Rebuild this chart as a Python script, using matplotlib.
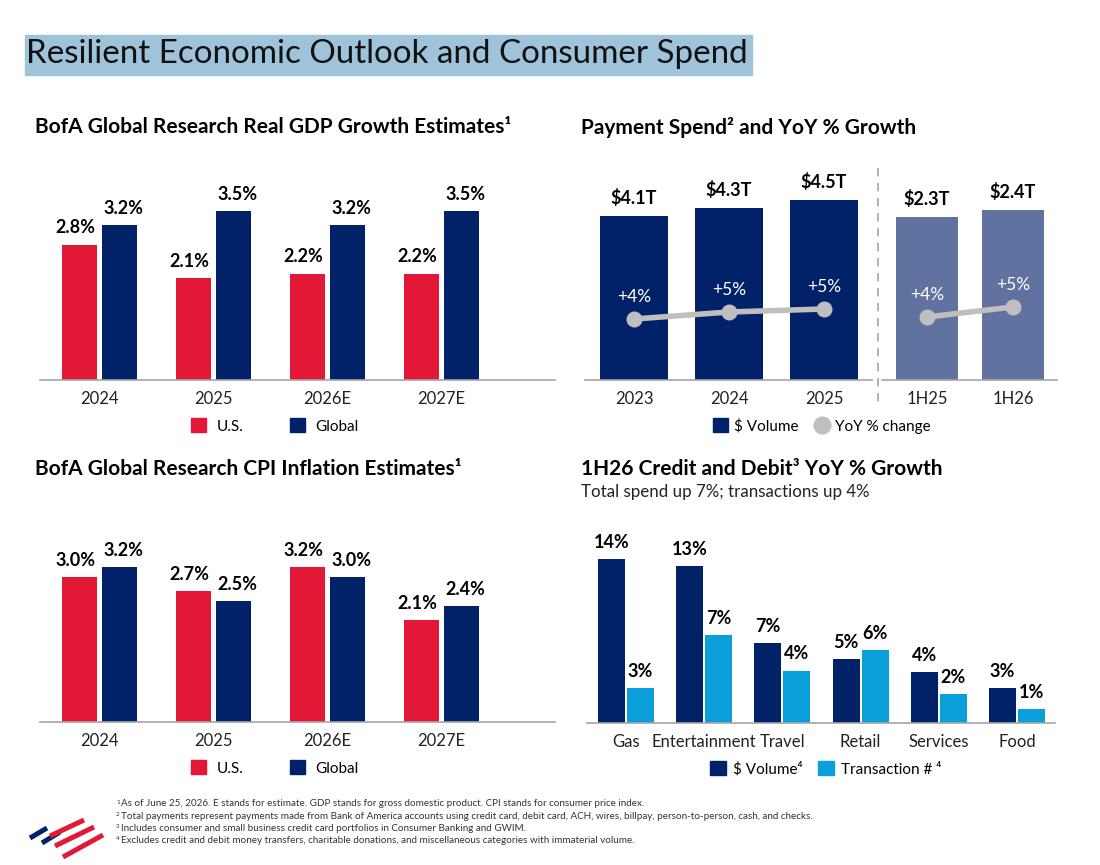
import numpy as np
import matplotlib
matplotlib.use('Agg')
import matplotlib.pyplot as plt
from matplotlib.patches import Rectangle
from matplotlib.lines import Line2D

# ═══ Data ═══
gdp_years = ['2024', '2025', '2026E', '2027E']
gdp_us = [2.8, 2.1, 2.2, 2.2]
gdp_global = [3.2, 3.5, 3.2, 3.5]

cpi_years = ['2024', '2025', '2026E', '2027E']
cpi_us = [3.0, 2.7, 3.2, 2.1]
cpi_global = [3.2, 2.5, 3.0, 2.4]

pay_years = ['2023', '2024', '2025']
pay_vol = [4.1, 4.3, 4.5]
pay_yoy = [3.9, 4.6, 4.9]
pay_yoy_lbl = ['+4%', '+5%', '+5%']
half_periods = ['1H25', '1H26']
half_vol = [2.3, 2.4]
half_yoy = [4.1, 5.1]
half_yoy_lbl = ['+4%', '+5%']

cats = ['Gas', 'Entertainment', 'Travel', 'Retail', 'Services', 'Food']
cat_dollar = [13.8, 13.2, 6.7, 5.4, 4.3, 2.9]
cat_txn = [2.9, 7.4, 4.4, 6.1, 2.4, 1.2]

footnotes = [
    ('1', 'As of June 25, 2026. E stands for estimate. GDP stands for gross domestic product. CPI stands for consumer price index.'),
    ('2', 'Total payments represent payments made from Bank of America accounts using credit card, debit card, ACH, wires, billpay, person-to-person, cash, and checks.'),
    ('3', 'Includes consumer and small business credit card portfolios in Consumer Banking and GWIM.'),
    ('4', 'Excludes credit and debit money transfers, charitable donations, and miscellaneous categories with immaterial volume.'),
]

# ═══ Style ═══
NAVY = '#012169'
RED = '#E31837'
LIGHT = '#0A9FDB'
MUTED = '#5F72A0'
GRAY = '#BFBFBF'
AXIS = '#A6A6A6'
FONT = ['Lato', 'DejaVu Sans']
plt.rcParams['font.family'] = FONT

W, H = 1100, 865
fig = plt.figure(figsize=(W / 100, H / 100), dpi=100)


def px_axes(x0, y0, x1, y1):
    """Axes from pixel box (top-left origin)."""
    return fig.add_axes([x0 / W, 1 - y1 / H, (x1 - x0) / W, (y1 - y0) / H])


def clean(ax):
    for s in ['top', 'right', 'left']:
        ax.spines[s].set_visible(False)
    ax.spines['bottom'].set_color(AXIS)
    ax.spines['bottom'].set_linewidth(1.2)
    ax.set_yticks([])
    ax.tick_params(axis='x', length=0, pad=8, labelsize=12, labelcolor='#222222')
    ax.patch.set_alpha(0)


def ftext(x, y, s, **kw):
    fig.text(x / W, 1 - y / H, s, **kw)


# ═══ Main title ═══
fig.add_artist(Rectangle((25 / W, 1 - 75 / H), 727 / W, 40 / H,
                         transform=fig.transFigure, color='#9FC3DA', zorder=0))
ftext(26, 54, 'Resilient Economic Outlook and Consumer Spend', fontsize=23.9,
      va='center', ha='left', color='#111111')


# ═══ Grouped US / Global bars ═══
def us_global(ax, years, us, glob):
    x = np.arange(len(years))
    w = 0.307
    off = 0.175
    ax.bar(x - off, us, w, color=RED)
    ax.bar(x + off, glob, w, color=NAVY)
    for xi, v in zip(x - off, us):
        ax.annotate(f'{v:.1f}%', (xi, v), xytext=(-3, 12), textcoords='offset points',
                    ha='center', va='center', fontsize=13, fontweight='bold')
    for xi, v in zip(x + off, glob):
        ax.annotate(f'{v:.1f}%', (xi, v), xytext=(3, 12), textcoords='offset points',
                    ha='center', va='center', fontsize=13, fontweight='bold')
    ax.set_xticks(x)
    ax.set_xticklabels(years)
    ax.set_xlim(-0.522, 3.996)
    ax.set_ylim(0, 4.55)
    clean(ax)


ax1 = px_axes(40, 160, 555, 380)
us_global(ax1, gdp_years, gdp_us, gdp_global)
ftext(35, 127, 'BofA Global Research Real GDP Growth Estimates¹', fontsize=15,
      fontweight='bold', va='center')

ax3 = px_axes(40, 502, 555, 722)
us_global(ax3, cpi_years, cpi_us, cpi_global)
ftext(35, 469, 'BofA Global Research CPI Inflation Estimates¹', fontsize=15,
      fontweight='bold', va='center')

for ax, ly in [(ax1, 426), (ax3, 768)]:
    h = [Rectangle((0, 0), 1, 1, color=RED), Rectangle((0, 0), 1, 1, color=NAVY)]
    fig.legend(h, ['U.S.', 'Global'], loc='center', bbox_to_anchor=(275 / W, 1 - ly / H),
               ncol=2, frameon=False, fontsize=11, handlelength=1.0, handleheight=1.0,
               columnspacing=3.0, handletextpad=0.7)


# ═══ Payment spend ═══
def spend(ax, labels, vol, yoy, yoy_lbl, color, ymax, xlim):
    x = np.arange(len(labels))
    ax.bar(x, vol, 0.725, color=color)
    for xi, v in zip(x, vol):
        ax.annotate(f'${v:.1f}T', (xi, v), xytext=(0, 13), textcoords='offset points',
                    ha='center', va='center', fontsize=13, fontweight='bold')
    ax.set_xticks(x)
    ax.set_xticklabels(labels)
    ax.set_xlim(*xlim)
    ax.set_ylim(0, ymax)
    clean(ax)
    tw = ax.twinx()
    tw.plot(x, yoy, color=GRAY, lw=4, marker='o', markersize=10.5, solid_capstyle='round')
    for xi, v, s in zip(x, yoy, yoy_lbl):
        tw.annotate(s, (xi, v), xytext=(0, 16), textcoords='offset points',
                    ha='center', va='center', fontsize=12.5, color='white')
    tw.set_ylim(-2.2, 19.8)
    tw.axis('off')


ax2 = px_axes(585, 160, 872, 380)
spend(ax2, pay_years, pay_vol, pay_yoy, pay_yoy_lbl, NAVY, 5.5, (-0.516, 2.505))
ax2b = px_axes(882, 160, 1057, 380)
spend(ax2b, half_periods, half_vol, half_yoy, half_yoy_lbl, MUTED, 3.1, (-0.523, 1.512))
fig.add_artist(Line2D([878 / W, 878 / W], [1 - 168 / H, 1 - 408 / H], transform=fig.transFigure,
                      color=AXIS, lw=1.2, ls=(0, (5, 4))))
ftext(581, 127, 'Payment Spend² and YoY % Growth', fontsize=15, fontweight='bold', va='center')
h = [Rectangle((0, 0), 1, 1, color=NAVY),
     Line2D([], [], ls='none', marker='o', markersize=12, color=GRAY)]
fig.legend(h, ['$ Volume', 'YoY % change'], loc='center', bbox_to_anchor=(822 / W, 1 - 426 / H),
           ncol=2, frameon=False, fontsize=11, handlelength=1.0, handleheight=1.0,
           columnspacing=1.0, handletextpad=0.4)

# ═══ Credit and debit ═══
ax4 = px_axes(587, 500, 1055, 723)
x = np.arange(len(cats))
ax4.bar(x - 0.185, cat_dollar, 0.345, color=NAVY)
ax4.bar(x + 0.185, cat_txn, 0.345, color=LIGHT)
for xs, vals in [(x - 0.185, cat_dollar), (x + 0.185, cat_txn)]:
    for xi, v in zip(xs, vals):
        ax4.annotate(f'{v:.0f}%', (xi, v), xytext=(0, 12), textcoords='offset points',
                     ha='center', va='center', fontsize=13, fontweight='bold')
ax4.set_xticks(x)
ax4.set_xticklabels(cats)
ax4.set_xlim(-0.499, 5.486)
ax4.set_ylim(0, 18.74)
clean(ax4)
ftext(581, 469, '1H26 Credit and Debit³ YoY % Growth', fontsize=15, fontweight='bold', va='center')
ftext(581, 492, 'Total spend up 7%; transactions up 4%', fontsize=12.2, va='center', color='#222222')
h = [Rectangle((0, 0), 1, 1, color=NAVY), Rectangle((0, 0), 1, 1, color=LIGHT)]
fig.legend(h, ['$ Volume⁴', 'Transaction # ⁴'], loc='center', bbox_to_anchor=(826 / W, 1 - 769 / H),
           ncol=2, frameon=False, fontsize=11, handlelength=1.0, handleheight=1.0,
           columnspacing=1.0, handletextpad=0.5)

# ═══ Footnotes ═══
for i, (num, txt) in enumerate(footnotes):
    y = 804 + i * 12.3
    ftext(116, y - 2, num, fontsize=4.5, va='center', color='#333333')
    ftext(121, y, txt, fontsize=7.1, va='center', color='#333333')

# ═══ Logo ═══
for (x0, y0, x1, y1, c, lw) in [
    (30, 838, 47, 828, NAVY, 3.6), (42, 843, 60, 832, NAVY, 3.6),
    (50, 836, 84, 820, RED, 3.6), (55, 846, 94, 827, RED, 3.6),
    (63, 857, 103, 835, RED, 3.6),
]:
    fig.add_artist(Line2D([x0 / W, x1 / W], [1 - y0 / H, 1 - y1 / H], transform=fig.transFigure,
                          color=c, lw=lw, solid_capstyle='butt'))

fig.savefig('out.png', dpi=100)
